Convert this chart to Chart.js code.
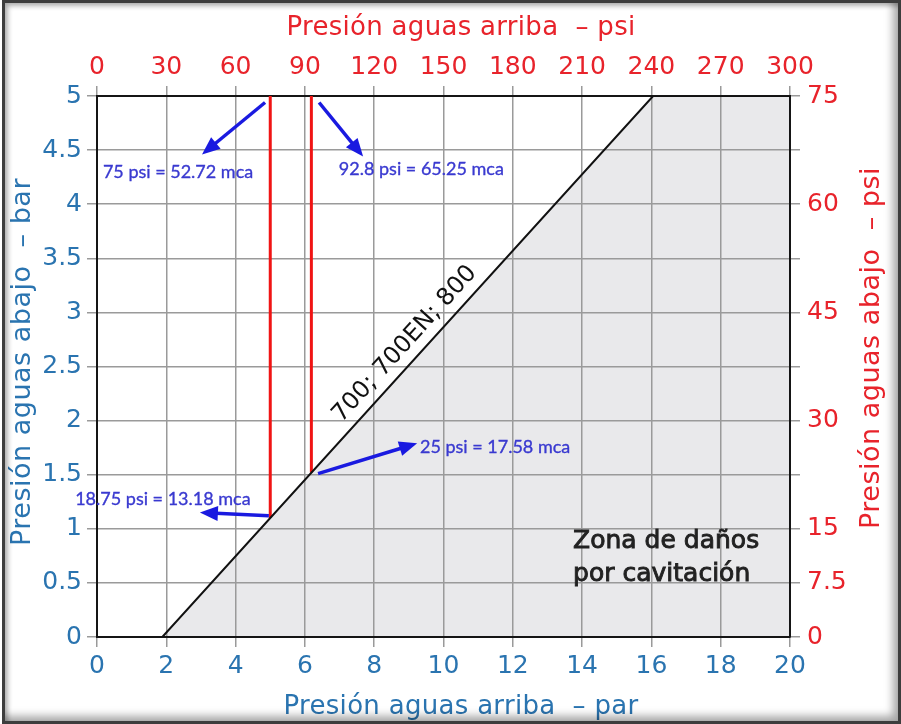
<!DOCTYPE html>
<html><head><meta charset="utf-8">
<script src="https://cdn.jsdelivr.net/npm/chart.js@4.4.1/dist/chart.umd.min.js"></script>
<style>
html,body{margin:0;padding:0;background:#fff;}
#wrap{position:relative;width:901px;height:724px;overflow:hidden;background:#fff;}
#frame{position:absolute;left:2px;top:0;width:899px;height:724px;box-sizing:border-box;border:3px solid #3d3d3d;
 box-shadow:inset 3px 3px 5px rgba(0,0,0,.30), inset -5px -5px 8px rgba(0,0,0,.35);pointer-events:none;}
canvas{display:block;}
</style></head><body>
<div id="wrap"><canvas id="c" width="901" height="724"></canvas><div id="frame"></div></div>
<script>
const BLUE = '#2a74b0', RED = '#e8232b', NOTE = '#3a3ad0', ARROW = '#1a1ae0';

// ---- data (bar / psi units) ----
const limitLineBar = [1.885, 16.05, 20];      // upstream pressure, bar
const limitLineDown = [0, 5, 5];              // downstream pressure, bar
const valvePsi = [75, 92.8];                  // upstream pressure, psi
const valveTopBar = [5, 5];
const valveBottomBar = [1.10, 1.52];
const rightPsiLabels = [0, 7.5, 15, 30, 45, 60, 75];
const arrowFromX = [4.85, 6.41, 4.96, 6.38];
const arrowFromY = [4.94, 4.94, 1.12, 1.51];
const arrowToX = [3.03, 7.68, 2.97, 9.24];
const arrowToY = [4.46, 4.44, 1.15, 1.79];
const noteText = ['75 psi = 52.72 mca', '92.8 psi = 65.25 mca', '18.75 psi = 13.18 mca', '25 psi = 17.58 mca'];
const noteX = [0.17, 6.98, -0.63, 9.32];
const noteY = [4.30, 4.32, 1.275, 1.755];
const seriesLabel = '700; 700EN; 800';
const seriesLabelFrac = 0.52;
const zoneText = ['Zona de daños', 'por cavitación'];
const zoneX = [13.74, 13.74];
const zoneY = [0.88, 0.575];
const titleTop = 'Presión aguas arriba  – psi';
const titleBottom = 'Presión aguas arriba  – par';
const titleLeft = 'Presión aguas abajo  – bar';
const titleRight = 'Presión aguas abajo  – psi';

const FONT = 'DejaVu Sans';
const gridCol = '#9a9a9a';

const datasets = [
  {
    label: seriesLabel,
    data: limitLineBar.map((x, i) => ({x, y: limitLineDown[i]})),
    showLine: true, borderColor: '#111', borderWidth: 2, pointRadius: 0,
    fill: 'start', backgroundColor: '#e9e9eb', xAxisID: 'x', yAxisID: 'y'
  }
];
valvePsi.forEach((p, i) => {
  datasets.push({
    label: 'valve' + i,
    data: [{x: p, y: valveTopBar[i]}, {x: p, y: valveBottomBar[i]}],
    showLine: true, borderColor: '#f01414', borderWidth: 3, pointRadius: 0, fill: false,
    xAxisID: 'x2', yAxisID: 'y'
  });
});

function fixSize(prop, v) { return s => { s[prop] = v; }; }

const extras = {
  id: 'extras',
  afterDatasetsDraw(chart) {
    const ctx = chart.ctx, X = chart.scales.x, Y = chart.scales.y;
    ctx.save();
    // arrows
    for (let i = 0; i < arrowFromX.length; i++) {
      const x0 = X.getPixelForValue(arrowFromX[i]), y0 = Y.getPixelForValue(arrowFromY[i]);
      const x1 = X.getPixelForValue(arrowToX[i]), y1 = Y.getPixelForValue(arrowToY[i]);
      const a = Math.atan2(y1 - y0, x1 - x0), L = 18, W = 7.5;
      const bx = x1 - L * Math.cos(a), by = y1 - L * Math.sin(a);
      ctx.strokeStyle = ARROW; ctx.fillStyle = ARROW; ctx.lineWidth = 3.5; ctx.lineCap = 'butt';
      ctx.beginPath(); ctx.moveTo(x0, y0); ctx.lineTo(bx + 2 * Math.cos(a), by + 2 * Math.sin(a)); ctx.stroke();
      ctx.beginPath(); ctx.moveTo(x1, y1);
      ctx.lineTo(bx + W * Math.sin(a), by - W * Math.cos(a));
      ctx.lineTo(bx - W * Math.sin(a), by + W * Math.cos(a));
      ctx.closePath(); ctx.fill();
    }
    // notes
    ctx.font = '18px Lato'; ctx.fillStyle = NOTE; ctx.strokeStyle = NOTE; ctx.lineWidth = 0.35;
    ctx.textAlign = 'left'; ctx.textBaseline = 'middle';
    noteText.forEach((t, i) => {
      const nx = X.getPixelForValue(noteX[i]), ny = Y.getPixelForValue(noteY[i]);
      ctx.fillText(t, nx, ny); ctx.strokeText(t, nx, ny);
    });
    // series label along the line
    const p0x = X.getPixelForValue(limitLineBar[0]), p0y = Y.getPixelForValue(limitLineDown[0]);
    const p1x = X.getPixelForValue(limitLineBar[1]), p1y = Y.getPixelForValue(limitLineDown[1]);
    const ang = Math.atan2(p1y - p0y, p1x - p0x);
    const cx = p0x + (p1x - p0x) * seriesLabelFrac, cy = p0y + (p1y - p0y) * seriesLabelFrac;
    const off = 11;
    ctx.save();
    ctx.translate(cx + off * Math.sin(ang), cy - off * Math.cos(ang));
    ctx.rotate(ang);
    ctx.font = '24px ' + FONT; ctx.fillStyle = '#111'; ctx.textAlign = 'center'; ctx.textBaseline = 'alphabetic';
    ctx.fillText(seriesLabel, 0, 0);
    ctx.restore();
    // zone text
    ctx.font = '25px ' + FONT; ctx.fillStyle = '#222'; ctx.strokeStyle = '#222'; ctx.lineWidth = 0.9;
    ctx.textAlign = 'left'; ctx.textBaseline = 'middle';
    zoneText.forEach((t, i) => {
      const zx = X.getPixelForValue(zoneX[i]), zy = Y.getPixelForValue(zoneY[i]);
      ctx.fillText(t, zx, zy); ctx.strokeText(t, zx, zy);
    });
    // axis titles
    ctx.font = '26px ' + FONT; ctx.textAlign = 'center'; ctx.textBaseline = 'alphabetic';
    ctx.letterSpacing = '0.3px';
    ctx.fillStyle = RED; ctx.fillText(titleTop, 461, 35);
    ctx.fillStyle = BLUE; ctx.fillText(titleBottom, 461, 714);
    ctx.font = '27px ' + FONT; ctx.letterSpacing = '0.5px';
    ctx.save(); ctx.translate(30, 362); ctx.rotate(-Math.PI / 2); ctx.fillStyle = BLUE; ctx.fillText(titleLeft, 0, 0); ctx.restore();
    ctx.save(); ctx.translate(879, 348); ctx.rotate(-Math.PI / 2); ctx.fillStyle = RED; ctx.fillText(titleRight, 0, 0); ctx.restore();
    ctx.restore();
  }
};

const tickFont = {family: FONT, size: 25};
const border = {display: true, color: '#151515', width: 2};

new Chart(document.getElementById('c'), {
  type: 'scatter',
  data: {datasets},
  options: {
    responsive: false, animation: false,
    layout: {padding: 0},
    plugins: {legend: {display: false}, tooltip: {enabled: false}, filler: {drawTime: 'beforeDraw'}},
    scales: {
      x: {type: 'linear', position: 'bottom', min: 0, max: 20,
          ticks: {stepSize: 2, color: BLUE, font: tickFont, padding: 4, maxRotation: 0, autoSkip: false},
          grid: {color: gridCol, lineWidth: 1.5, tickLength: 10}, border, afterFit: fixSize('height', 87)},
      x2: {type: 'linear', position: 'top', min: 0, max: 300,
          ticks: {stepSize: 30, color: RED, font: tickFont, padding: 4, maxRotation: 0, autoSkip: false},
          grid: {color: gridCol, lineWidth: 1.5, tickLength: 10, drawOnChartArea: false}, border, afterFit: fixSize('height', 96)},
      y: {type: 'linear', position: 'left', min: 0, max: 5,
          ticks: {stepSize: 0.5, color: BLUE, font: tickFont, padding: 5, autoSkip: false, callback: v => String(v)},
          grid: {color: gridCol, lineWidth: 1.5, tickLength: 10}, border, afterFit: fixSize('width', 97)},
      y2: {type: 'linear', position: 'right', min: 0, max: 75,
          ticks: {stepSize: 7.5, color: RED, font: tickFont, padding: 7, autoSkip: false,
                  callback: v => rightPsiLabels.includes(v) ? String(v) : ''},
          grid: {color: gridCol, lineWidth: 1.5, tickLength: 10, drawOnChartArea: false}, border, afterFit: fixSize('width', 111)}
    }
  },
  plugins: [extras]
});
</script>
</body></html>
